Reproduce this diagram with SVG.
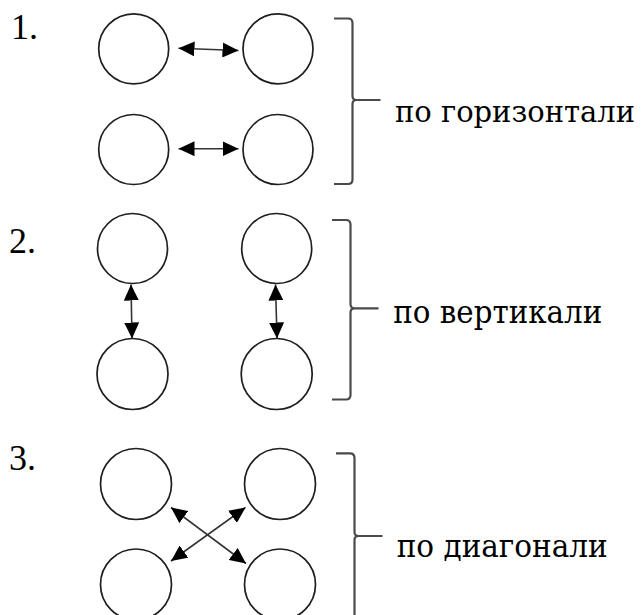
<svg xmlns="http://www.w3.org/2000/svg" width="644" height="615" viewBox="0 0 644 615">
<style>
.n{fill:#fff;stroke:#1e1e1e;stroke-width:1.7}
.c{stroke:#333;stroke-width:1.6;fill:none;marker-start:url(#ah);marker-end:url(#ah)}
.b{stroke:#4a4a4a;stroke-width:2.2;fill:none}
.t{font-family:"Liberation Serif","Times New Roman",serif;font-size:36px;fill:#000}
.r{font-family:"DejaVu Serif","Liberation Serif",serif;font-size:32px;fill:#000}
</style>
<defs>
<marker id="ah" viewBox="0 0 10 10" refX="10" refY="5" markerUnits="userSpaceOnUse" markerWidth="16" markerHeight="15" orient="auto-start-reverse" preserveAspectRatio="none">
<path d="M0,0 L10,5 L0,10 z" fill="#000"/>
</marker>
</defs>
<rect width="644" height="615" fill="#fff"/>
<g id="labels">
<text class="t" x="11" y="39">1.</text>
<text class="t" x="9" y="253">2.</text>
<text class="t" x="9" y="470">3.</text>
</g>
<g id="n1a"><circle class="n" cx="133.7" cy="48.8" r="35"/></g>
<g id="n1b"><circle class="n" cx="278" cy="48.8" r="35"/></g>
<g id="n1c"><circle class="n" cx="133.7" cy="149.5" r="35"/></g>
<g id="n1d"><circle class="n" cx="278" cy="149.5" r="35"/></g>
<g id="n2a"><circle class="n" cx="132.5" cy="248.5" r="35"/></g>
<g id="n2b"><circle class="n" cx="276.7" cy="248.5" r="35"/></g>
<g id="n2c"><circle class="n" cx="132.5" cy="374" r="35.5"/></g>
<g id="n2d"><circle class="n" cx="276.7" cy="374" r="35.5"/></g>
<g id="n3a"><circle class="n" cx="136" cy="484" r="35.5"/></g>
<g id="n3b"><circle class="n" cx="280" cy="484" r="35.5"/></g>
<g id="n3c"><circle class="n" cx="136" cy="584.5" r="35.5"/></g>
<g id="n3d"><circle class="n" cx="280" cy="584.5" r="35.5"/></g>
<g id="connectors">
<line class="c" x1="178.5" y1="48.3" x2="238.5" y2="50.5"/>
<line class="c" x1="178.5" y1="148.7" x2="238.5" y2="148.7"/>
<line class="c" x1="131" y1="284.5" x2="132" y2="338.5"/>
<line class="c" x1="275.5" y1="284.5" x2="277" y2="338.5"/>
<line class="c" x1="171" y1="507.5" x2="246" y2="563.5"/>
<line class="c" x1="245.5" y1="507.5" x2="171" y2="561"/>
</g>
<g id="group1">
<path class="b" d="M334,18.5 H348 Q352.5,18.5 352.5,23 V96 Q352.5,100 356.5,100 H380.5 M356.5,100 Q352.5,100 352.5,104 V179.5 Q352.5,184 348,184 H334"/>
<text class="r" x="395" y="121.7" style="font-size:29.5px" textLength="240" lengthAdjust="spacingAndGlyphs">по горизонтали</text>
</g>
<g id="group2">
<path class="b" d="M332,220 H346 Q350.5,220 350.5,224.5 V304 Q350.5,308.3 354.5,308.3 H378.5 M354.5,308.3 Q350.5,308.3 350.5,312.5 V395 Q350.5,399.5 346,399.5 H332"/>
<text class="r" x="393.3" y="322.7" textLength="209" lengthAdjust="spacingAndGlyphs">по вертикали</text>
</g>
<g id="group3">
<path class="b" d="M336,453.3 H350 Q354.5,453.3 354.5,458 V532 Q354.5,536 358.5,536 H382.5 M358.5,536 Q354.5,536 354.5,540 V620"/>
<text class="r" x="396.7" y="556.7" textLength="211" lengthAdjust="spacingAndGlyphs">по диагонали</text>
</g>
</svg>
